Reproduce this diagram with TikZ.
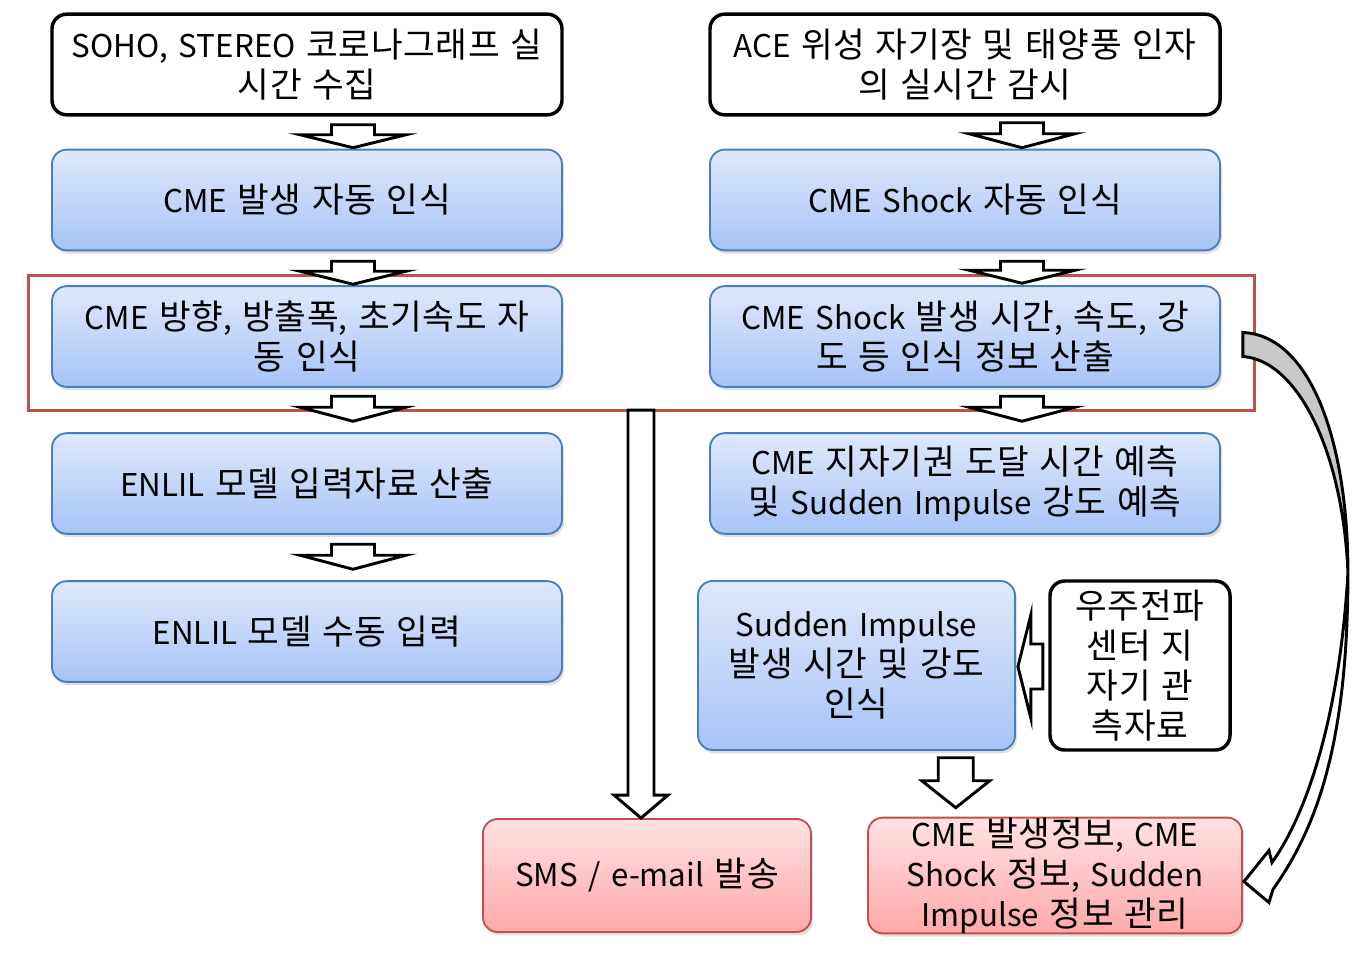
\documentclass[tikz,border=0pt]{standalone}
\usepackage{fontspec}
\setmainfont{Noto Sans CJK KR}[WordSpace=1.5]
\newfontfamily\hanfont{Noto Sans CJK KR}[Scale=1.1,LetterSpace=2]
\usetikzlibrary{calc,shadows}

% larger Hangul syllables, as in the original face
\newXeTeXintercharclass\hanclass
\newcount\hancnt
\hancnt="AC00
\loop
  \XeTeXcharclass\hancnt=\hanclass
\ifnum\hancnt<"D7A3 \advance\hancnt by 1 \repeat
\XeTeXinterchartoks 0 \hanclass={\begingroup\hanfont}
\XeTeXinterchartoks 4095 \hanclass={\begingroup\hanfont}
\XeTeXinterchartoks \hanclass 0={\endgroup}
\XeTeXinterchartoks \hanclass 4095={\endgroup}

\definecolor{boxblue}{RGB}{74,126,187}
\definecolor{bluetop}{RGB}{222,233,252}
\definecolor{bluebot}{RGB}{166,196,247}
\definecolor{boxred}{RGB}{192,80,77}
\definecolor{redtop}{RGB}{255,226,226}
\definecolor{redbot}{RGB}{255,168,168}
\definecolor{ribbon}{RGB}{200,200,200}

\tikzset{
  stepbox/.style={rounded corners=11pt, align=center, inner sep=0pt,
    font=\fontsize{23.5}{30}\selectfont},
  srcbox/.style={stepbox, draw=black, line width=2.6pt, fill=white},
  bluebox/.style={stepbox, draw=boxblue, line width=1.4pt,
    top color=bluetop, bottom color=bluebot,
    drop shadow={shadow xshift=1.5pt, shadow yshift=-2.5pt, opacity=0.25}},
  redbox/.style={stepbox, draw=boxred, line width=1.4pt,
    top color=redtop, bottom color=redbot,
    drop shadow={shadow xshift=1.5pt, shadow yshift=-2.5pt, opacity=0.25}},
  wide/.style={minimum width=382.5pt, minimum height=75.5pt},
  blockarrow/.style={draw=black, fill=white, line width=2.2pt, line join=miter},
}

% tip, length, shaft half width, head half width, head length
\newcommand{\blockdown}[5]{%
  \draw[blockarrow] ($(#1)+(-#3,-#2)$) -- ($(#1)+(#3,-#2)$) -- ($(#1)+(#3,-#5)$)
    -- ($(#1)+(#4,-#5)$) -- (#1) -- ($(#1)+(-#4,-#5)$) -- ($(#1)+(-#3,-#5)$) -- cycle;}
\newcommand{\blockleft}[5]{%
  \draw[blockarrow] ($(#1)+(#2,-#3)$) -- ($(#1)+(#2,#3)$) -- ($(#1)+(#5,#3)$)
    -- ($(#1)+(#5,#4)$) -- (#1) -- ($(#1)+(#5,-#4)$) -- ($(#1)+(#5,-#3)$) -- cycle;}

\begin{document}
\XeTeXinterchartokenstate=1
\begin{tikzpicture}[x=0.75pt,y=0.75pt,yscale=-1,xscale=1]
\useasboundingbox (0,0) rectangle (1359,956);

%Group frame
\node[draw=boxred, line width=2.25pt, minimum width=919.5pt, minimum height=101.25pt] (grp) at (641,342.5) {};

%Sources
\node[srcbox, wide] (soho) at (307,64.5) {SOHO, STEREO 코로나그래프 실\\시간 수집};
\node[srcbox, wide] (ace) at (965,64.5) {ACE 위성 자기장 및 태양풍 인자\\의 실시간 감시};

%Left column
\node[bluebox, wide] (cme) at (307,200) {CME 발생 자동 인식};
\node[bluebox, wide] (dir) at (307,336.5) {CME 방향, 방출폭, 초기속도 자\\동 인식};
\node[bluebox, wide] (enlilin) at (307,483.5) {ENLIL 모델 입력자료 산출};
\node[bluebox, wide] (enlilman) at (307,631.5) {ENLIL 모델 수동 입력};

%Right column
\node[bluebox, wide] (shock) at (965,200) {CME Shock 자동 인식};
\node[bluebox, wide] (shockinfo) at (965,336.5) {CME Shock 발생 시간, 속도, 강\\도 등 인식 정보 산출};
\node[bluebox, wide] (arrival) at (965,483.5) {CME 지자기권 도달 시간 예측\\및 Sudden Impulse 강도 예측};
\node[bluebox, minimum width=237.75pt, minimum height=126.75pt] (si) at (856.5,665.5) {Sudden Impulse\\발생 시간 및 강도\\인식};
\node[srcbox, minimum width=135pt, minimum height=126.75pt] (kasa) at (1140,665.5) {우주전파\\센터 지\\자기 관\\측자료};

%Outputs
\node[redbox, minimum width=246pt, minimum height=84.75pt] (sms) at (647,875.5) {SMS / e-mail 발송};
\node[redbox, minimum width=280.5pt, minimum height=84.75pt] (manage) at (1055,875.5) {CME 발생정보, CME\\Shock 정보, Sudden\\Impulse 정보 관리};

%Block arrows
\coordinate (simid) at ($(si.center)!0.5!(manage.center)$);
\coordinate (smstip) at (grp.south |- sms.north);
\blockdown{$(cme.north)+(46,-1)$}{23}{21.5}{53}{13}
\blockdown{$(dir.north)+(46,-1)$}{23}{21.5}{53}{13}
\blockdown{$(enlilin.north)+(46,-11)$}{25}{21.5}{53}{14}
\blockdown{$(enlilman.north)+(46,-11)$}{25}{21.5}{53}{14}
\blockdown{$(shock.north)+(57,-1)$}{25}{21.5}{53}{14}
\blockdown{$(shockinfo.north)+(57,-2)$}{22}{21.5}{53}{13}
\blockdown{$(arrival.north)+(57,-11)$}{25}{21.5}{53}{14}
\blockdown{smstip}{408}{13}{27}{23}
\blockdown{$(simid |- manage.north)+(0,-9)$}{50}{17.5}{34}{27}
\blockleft{$(si.east)+(2,1)$}{25}{22.5}{52}{13}

%Curved arrow
\coordinate (cs) at ($(shockinfo.east)+(22,-4)$);
\coordinate (ce) at ($(manage.east)+(1,6)$);
\begin{scope}[shift={(cs)}]
\draw[blockarrow] (105,240) .. controls (105,420) and (70,500) .. (30,557) -- (26,570) -- (ce)
  -- (26,518) -- (29,530) .. controls (65,480) and (97,380) .. (105,240) -- cycle;
\draw[blockarrow, fill=ribbon] (0,0) .. controls (68,3) and (105,110) .. (105,240)
  .. controls (100,120) and (55,28) .. (0,24) -- cycle;
\end{scope}

\end{tikzpicture}
\end{document}
